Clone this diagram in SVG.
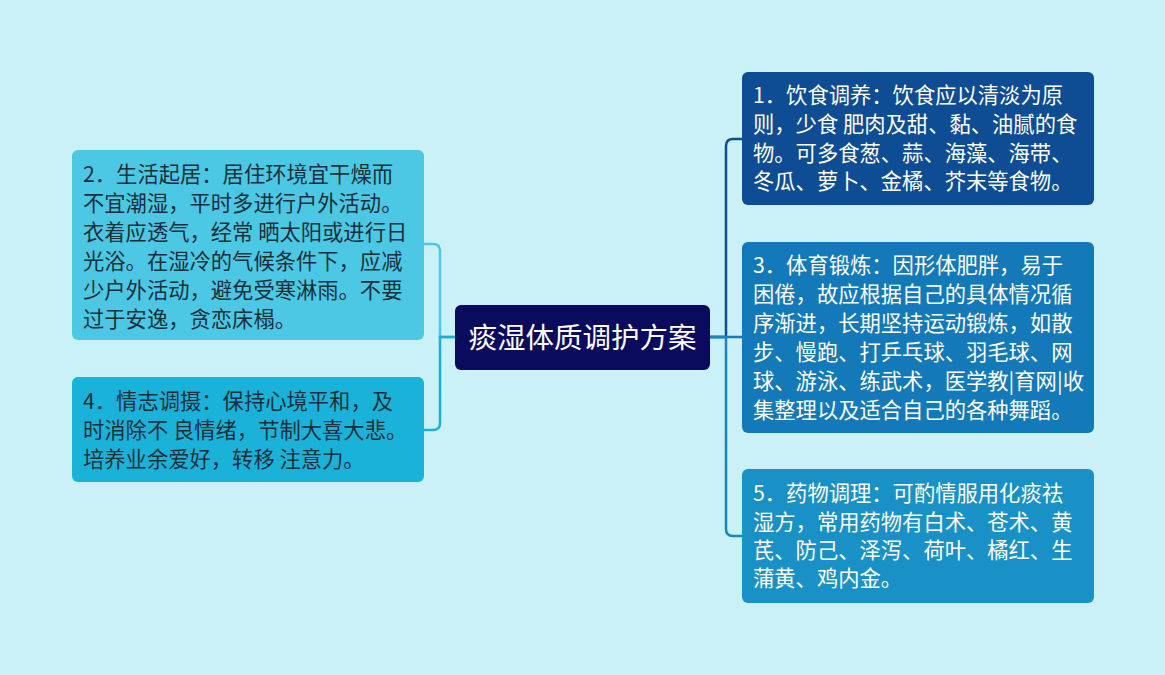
<svg xmlns="http://www.w3.org/2000/svg" width="1165" height="675" viewBox="0 0 1165 675">
<style>
.t{font-family:"Noto Sans CJK SC","Liberation Sans",sans-serif;font-size:21.3px}
.dk{fill:#17303c}
.lt{fill:#ffffff}
.c{fill:none;stroke-width:2.5;stroke-linecap:round}
</style>
<rect width="1165" height="675" fill="#caf0f8"/>
<g id="connectors">
<path class="c" stroke="#4cc6e2" d="M455 337 H440 V251 Q440 244 433 244 H423"/>
<path class="c" stroke="#1ab0d6" d="M455 337 H440 V423 Q440 430 433 430 H423"/>
<path class="c" stroke="#0e4c94" d="M710 337 H726 V146 Q726 139 733 139 H742"/>
<path class="c" stroke="#1479b9" d="M710 337 H742"/>
<path class="c" stroke="#1a85c0" d="M710 337 H726 V529 Q726 536 733 536 H742"/>
</g>
<g id="center">
<rect x="455" y="305" width="255" height="65" rx="6" fill="#0b0b5e"/>
<text x="582.5" y="348" text-anchor="middle" font-family="Noto Sans CJK SC,Liberation Sans,sans-serif" font-size="28.5" fill="#ffffff">痰湿体质调护方案</text>
</g>
<g id="n2">
<rect x="72" y="150" width="352" height="190" rx="6" fill="#4cc8e4"/>
<text class="t dk"><tspan x="83" y="182">2．生活起居：居住环境宜干燥而</tspan><tspan x="83" y="211">不宜潮湿，平时多进行户外活动。</tspan><tspan x="83" y="240">衣着应透气，经常 晒太阳或进行日</tspan><tspan x="83" y="269">光浴。在湿冷的气候条件下，应减</tspan><tspan x="83" y="298">少户外活动，避免受寒淋雨。不要</tspan><tspan x="83" y="327">过于安逸，贪恋床榻。</tspan></text>
</g>
<g id="n4">
<rect x="72" y="377" width="352" height="105" rx="6" fill="#1ab2d8"/>
<text class="t dk"><tspan x="83" y="409">4．情志调摄：保持心境平和，及</tspan><tspan x="83" y="438">时消除不 良情绪，节制大喜大悲。</tspan><tspan x="83" y="467">培养业余爱好，转移 注意力。</tspan></text>
</g>
<g id="n1">
<rect x="742" y="72" width="352" height="133" rx="6" fill="#0e4c94"/>
<text class="t lt"><tspan x="753" y="103">1．饮食调养：饮食应以清淡为原</tspan><tspan x="753" y="132">则，少食 肥肉及甜、黏、油腻的食</tspan><tspan x="753" y="161">物。可多食葱、蒜、海藻、海带、</tspan><tspan x="753" y="189">冬瓜、萝卜、金橘、芥末等食物。</tspan></text>
</g>
<g id="n3">
<rect x="742" y="242" width="352" height="191" rx="6" fill="#1479b9"/>
<text class="t lt"><tspan x="753" y="273">3．体育锻炼：因形体肥胖，易于</tspan><tspan x="753" y="302">困倦，故应根据自己的具体情况循</tspan><tspan x="753" y="331">序渐进，长期坚持运动锻炼，如散</tspan><tspan x="753" y="360">步、慢跑、打乒乓球、羽毛球、网</tspan><tspan x="753" y="389">球、游泳、练武术，医学教|育网|收</tspan><tspan x="753" y="418">集整理以及适合自己的各种舞蹈。</tspan></text>
</g>
<g id="n5">
<rect x="742" y="469" width="352" height="134" rx="6" fill="#1a91c6"/>
<text class="t lt"><tspan x="753" y="501">5．药物调理：可酌情服用化痰祛</tspan><tspan x="753" y="530">湿方，常用药物有白术、苍术、黄</tspan><tspan x="753" y="558">芪、防己、泽泻、荷叶、橘红、生</tspan><tspan x="753" y="586">蒲黄、鸡内金。</tspan></text>
</g>
</svg>
